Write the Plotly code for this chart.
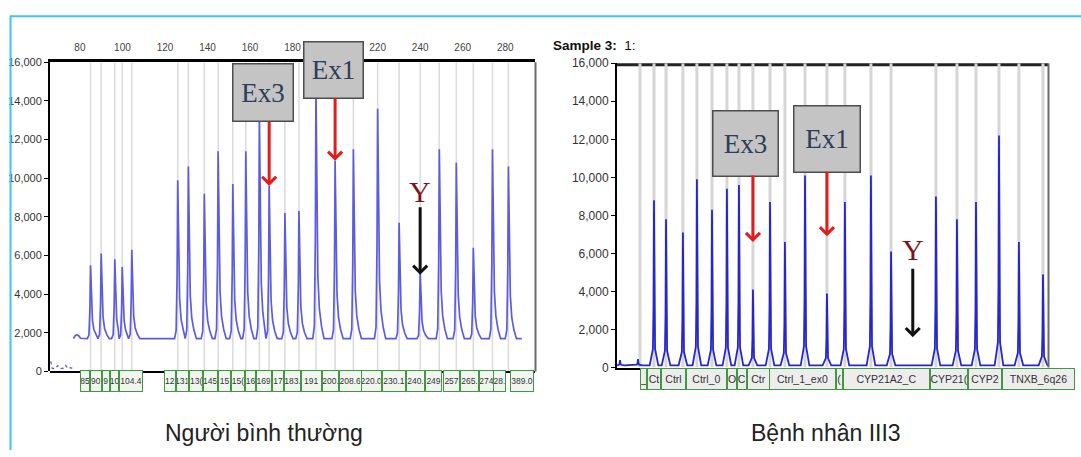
import plotly.graph_objects as go

W, H = 1081, 457

# ---------------- normal control (left electropherogram) ----------------
left_sizes = [85, 90, 96.4, 99.9, 104.4, 126, 131, 138.5, 145, 151.9, 158, 164.4, 169,
              176.4, 183, 191, 200, 208.6, 220.0, 230.1, 240, 249, 257, 265, 274, 281.5]
left_heights = [5500, 6100, 5800, 5400, 6300, 9900, 10600, 9200, 11400, 9700, 11400, 13100, 9600,
                8200, 8300, 14600, 10900, 11500, 13600, 7700, 5200, 11500, 10800, 6400, 11500, 10600]
left_baseline = 1700
left_lead_x = [76.9, 77.8, 78.6, 79.4, 80.3, 81.5]
left_lead_y = [1750, 1850, 1900, 1850, 1720, 1700]
left_noise_x = [66.3, 67.0, 68.4, 69.6, 71.0, 72.2, 73.3, 74.5, 75.6, 76.5]
left_noise_y = [520, 160, 150, 300, 150, 170, 320, 150, 200, 160]
left_ticks = [80, 100, 120, 140, 160, 180, 200, 220, 240, 260, 280]
left_labels = ["85", "90", "9", "10", "104.4", "12", "131", "13(", "145", "15", "15(", "16", "169",
               "17", "183.", "191", "200.", "208.6", "220.0", "230.1", "240.", "249", "257", "265.",
               "274", "28.", "389.0"]
left_label_lo = [80.0, 84.8, 90.3, 93.9, 98.3, 119.8, 125.3, 131.2, 138.0, 144.9, 151.2, 157.7, 163.0,
                 170.3, 176.0, 184.1, 193.8, 201.9, 212.5, 222.2, 233.5, 242.4, 250.5, 258.6, 267.5,
                 274.5, 282.1]
left_label_hi = [84.8, 90.3, 93.9, 98.3, 109.6, 125.3, 131.2, 138.0, 144.9, 151.2, 157.7, 163.0, 170.3,
                 176.0, 184.1, 193.8, 201.9, 212.5, 222.2, 233.5, 242.4, 250.5, 258.6, 267.5, 274.5,
                 280.5, 293.4]

# ---------------- patient III3 (right electropherogram) ----------------
right_sizes = [80.6, 87.3, 96.7, 104.5, 112.9, 121.2, 127.9, 135.7, 145.2, 153.5, 164.7, 176.9,
               186.9, 201.4, 212.6, 237.6, 249.3, 259.9, 272.7, 283.8, 297.2]
right_heights = [8800, 7800, 7100, 9900, 8300, 9400, 9600, 4100, 8700, 6600, 10100, 3900,
                 8700, 10100, 6100, 9000, 7800, 8700, 12200, 6600, 4900]
right_small_x = [61.7, 71.7]
right_small_y = [400, 450]
right_extra_bin = [72.8]
right_baseline = 120
right_y_probe = 224.7
right_labels = ["_", "Ct", "Ctrl", "Ctrl_0", "O", "C", "Ctr", "Ctrl_1_ex0", "(",
                "CYP21A2_C", "CYP21(", "CYP2", "TNXB_6q26"]
right_label_edges = [72.8, 76.7, 84.5, 98.4, 121.1, 126.8, 132.2, 144.9, 182.2, 185.9,
                     234.3, 255.5, 274.4, 315.0]

# ---------------- layout geometry (pixels) ----------------
L_PX = (50, 535, 57, 376)      # x0, x1, ytop, ybottom
R_PX = (617, 1048, 58, 372)
L_RANGE = [65.94, 294.0]
R_RANGE = [60, 300]


def px(x):
    return x / W


def py(y):
    return 1 - y / H


def peak_trace(sizes, heights, base, offs, fracs, x_start, x_end, lead_x=(), lead_y=()):
    xs, ys = [x_start] + list(lead_x), [base] + list(lead_y)
    for i, (s, h) in enumerate(zip(sizes, heights)):
        nxt = sizes[i + 1] + offs[0] if i + 1 < len(sizes) else None
        for o, f in zip(offs, fracs):
            x = s + o
            if x <= xs[-1]:
                continue
            if nxt is not None and x >= nxt:
                break
            xs.append(x)
            ys.append(base + f * (h - base))
    xs.append(x_end)
    ys.append(base)
    return xs, ys


def bin_lines(bins, top):
    xs, ys = [], []
    for b in bins:
        xs += [b, b, None]
        ys += [0, top, None]
    return xs, ys


# peak outlines
LEFT_OFFS = [-1.5, -0.75, -0.3, 0, 0.35, 0.9, 1.6, 2.6, 3.8]
LEFT_FRACS = [0, 0.05, 0.4, 1, 0.55, 0.25, 0.12, 0.05, 0]
RIGHT_OFFS = [-2.4, -0.6, -0.25, 0, 0.25, 0.6, 2.4]
RIGHT_FRACS = [0, 0.1, 0.35, 1, 0.35, 0.1, 0]

lx, ly = peak_trace(left_sizes, left_heights, left_baseline, LEFT_OFFS, LEFT_FRACS,
                    left_lead_x[0], 287.8, left_lead_x[1:], left_lead_y[1:])
rx, ry = peak_trace(right_small_x + right_sizes, right_small_y + right_heights, right_baseline,
                    RIGHT_OFFS, RIGHT_FRACS, R_RANGE[0], 299.5)

lbx, lby = bin_lines(left_sizes, 16000)
rbx, rby = bin_lines(right_extra_bin + right_sizes, 16000)

fig = go.Figure()
fig.add_trace(go.Scatter(x=lbx, y=lby, mode="lines", line=dict(color="#dadada", width=1.5),
                         xaxis="x", yaxis="y", hoverinfo="skip"))
fig.add_trace(go.Scatter(x=left_noise_x, y=left_noise_y, mode="lines",
                         line=dict(color="#5a5ae4", width=1.3, dash="dot"), xaxis="x", yaxis="y"))
fig.add_trace(go.Scatter(x=lx, y=ly, mode="lines", line=dict(color="#5c5ce2", width=1.7),
                         xaxis="x", yaxis="y"))
fig.add_trace(go.Scatter(x=rbx, y=rby, mode="lines", line=dict(color="#d6d6d6", width=3),
                         xaxis="x2", yaxis="y2", hoverinfo="skip"))
fig.add_trace(go.Scatter(x=rx, y=ry, mode="lines", line=dict(color="#2525d2", width=1.8),
                         xaxis="x2", yaxis="y2"))

tick_font = dict(family="Liberation Sans", size=11, color="#333333")

fig.update_layout(
    width=W, height=H, margin=dict(l=0, r=0, t=0, b=0),
    paper_bgcolor="white", plot_bgcolor="white", showlegend=False,
    xaxis=dict(domain=[px(L_PX[0]), px(L_PX[1])], range=L_RANGE, anchor="y", side="top",
               showline=True, linecolor="black", linewidth=3, showgrid=False, zeroline=False,
               tickvals=left_ticks, ticks="", ticklabelstandoff=4,
               tickfont=dict(family="Liberation Sans", size=10, color="#444444")),
    yaxis=dict(domain=[py(L_PX[3]), py(L_PX[2])], range=[0, 16000], anchor="x",
               showline=True, linecolor="black", linewidth=2, showgrid=False, zeroline=False,
               tickvals=list(range(0, 16001, 2000)), tickformat=",", ticks="outside",
               ticklen=4, tickcolor="black", tickfont=tick_font),
    xaxis2=dict(domain=[px(R_PX[0]), px(R_PX[1])], range=R_RANGE, anchor="y2",
                showline=True, linecolor="black", linewidth=2, showgrid=False, zeroline=False,
                showticklabels=False, ticks=""),
    yaxis2=dict(domain=[py(R_PX[3]), py(R_PX[2])], range=[0, 16000], anchor="x2",
                showline=True, linecolor="black", linewidth=2, showgrid=False, zeroline=False,
                tickvals=list(range(0, 16001, 2000)), tickformat=",", ticks="outside",
                ticklen=4, tickcolor="black",
                tickfont=dict(family="Liberation Sans", size=12, color="#333333")),
)

shapes = [
    # page frame
    dict(type="line", xref="paper", yref="paper", x0=px(10), x1=1, y0=py(9.5), y1=py(9.5),
         line=dict(color="#3cc6f0", width=2)),
    dict(type="line", xref="paper", yref="paper", x0=px(10.5), x1=px(10.5), y0=py(9), y1=0,
         line=dict(color="#3cc6f0", width=2)),
    # left panel: bottom axis and right border
    dict(type="line", xref="paper", yref="paper", x0=px(L_PX[0]), x1=px(L_PX[1]),
         y0=py(L_PX[3] + 0.5), y1=py(L_PX[3] + 0.5), line=dict(color="black", width=2)),
    dict(type="line", xref="paper", yref="paper", x0=px(L_PX[1] + 0.5), x1=px(L_PX[1] + 0.5),
         y0=py(L_PX[2]), y1=py(L_PX[3]), line=dict(color="#6a6a6a", width=2)),
    # right panel: top saturation line and right border
    dict(type="line", xref="paper", yref="paper", x0=px(R_PX[0]), x1=px(R_PX[1]),
         y0=py(R_PX[2] + 1.5), y1=py(R_PX[2] + 1.5), line=dict(color="#222222", width=3),
         layer="below"),
    dict(type="line", xref="paper", yref="paper", x0=px(R_PX[1] + 0.5), x1=px(R_PX[1] + 0.5),
         y0=py(R_PX[2]), y1=py(R_PX[3]), line=dict(color="#6a6a6a", width=2)),
]

ann = []

ppu_left = (L_PX[1] - L_PX[0]) / (L_RANGE[1] - L_RANGE[0])
ppu_right = (R_PX[1] - R_PX[0]) / (R_RANGE[1] - R_RANGE[0])

# probe label rows
for lab, lo, hi in zip(left_labels, left_label_lo, left_label_hi):
    ann.append(dict(xref="x", yref="paper", x=(lo + hi) / 2, y=py(386), text=lab, showarrow=False,
                    xanchor="center", yanchor="middle",
                    width=max((hi - lo) * ppu_left - 2, 1), height=20, borderpad=0, borderwidth=1,
                    bgcolor="#f2f6f0", bordercolor="#3f9a3f",
                    font=dict(family="Liberation Sans", size=8.5, color="#333333")))
for lab, lo, hi in zip(right_labels, right_label_edges[:-1], right_label_edges[1:]):
    ann.append(dict(xref="x2", yref="paper", x=(lo + hi) / 2, y=py(384), text=lab, showarrow=False,
                    xanchor="center", yanchor="middle",
                    width=max((hi - lo) * ppu_right - 2, 1), height=20, borderpad=0, borderwidth=1,
                    bgcolor="#ededed", bordercolor="#3f9a3f",
                    font=dict(family="Liberation Sans", size=10.5, color="#333333")))

# exon callout boxes
box_style = dict(xref="paper", yref="paper", showarrow=False, borderpad=0, borderwidth=1.5,
                 xanchor="center", yanchor="middle",
                 bgcolor="#c4c4c4", bordercolor="#4d4d4d",
                 font=dict(family="Liberation Serif", size=27, color="#2e3d58"))
for text, cx, cy, bw, bh in [("Ex3", 263, 88.5, 59, 56), ("Ex1", 333.3, 65, 58, 55),
                             ("Ex3", 745.3, 140.8, 64, 64), ("Ex1", 826.8, 135.8, 65, 65)]:
    ann.append(dict(text=text, x=px(cx), y=py(cy), width=bw, height=bh, **box_style))

# arrows
red = "#e31b1b"
for xr, yr, x, y, ay, col in [("x", "y", 169, 9600, -66, red),
                              ("x", "y", 200, 10900, -64, red),
                              ("x", "y", 240, 5000, -69, "#111111"),
                              ("x2", "y2", 135.7, 6600, -68, red),
                              ("x2", "y2", 176.9, 6900, -66, red),
                              ("x2", "y2", right_y_probe, 1600, -70, "#111111")]:
    ann.append(dict(xref=xr, yref=yr, x=x, y=y, ax=0, ay=ay, text="", showarrow=True,
                    arrowcolor=col, arrowwidth=3, arrowhead=4, arrowsize=0.9, standoff=0))

# Y-chromosome probe markers
y_font = dict(family="Liberation Serif", size=30, color="#7a1515")
ann.append(dict(xref="x", yref="paper", x=240, y=py(190), text="Y", showarrow=False,
                xanchor="center", yanchor="middle", font=y_font))
ann.append(dict(xref="x2", yref="paper", x=right_y_probe, y=py(250), text="Y", showarrow=False,
                xanchor="center", yanchor="middle", font=y_font))

# titles
ann.append(dict(xref="paper", yref="paper", x=px(551), y=py(40), xanchor="left", yanchor="middle",
                text="<b>Sample 3:</b>  1:", showarrow=False,
                font=dict(family="Liberation Sans", size=13.5, color="#111111")))
cap_font = dict(family="Liberation Sans", size=23, color="#222222")
ann.append(dict(xref="paper", yref="paper", x=px(264), y=py(439), text="Người bình thường",
                xanchor="center", yanchor="middle", showarrow=False, font=cap_font))
ann.append(dict(xref="paper", yref="paper", x=px(826), y=py(439), text="Bệnh nhân III3",
                xanchor="center", yanchor="middle", showarrow=False, font=cap_font))

fig.update_layout(shapes=shapes, annotations=ann)
fig.write_html("out.html")
